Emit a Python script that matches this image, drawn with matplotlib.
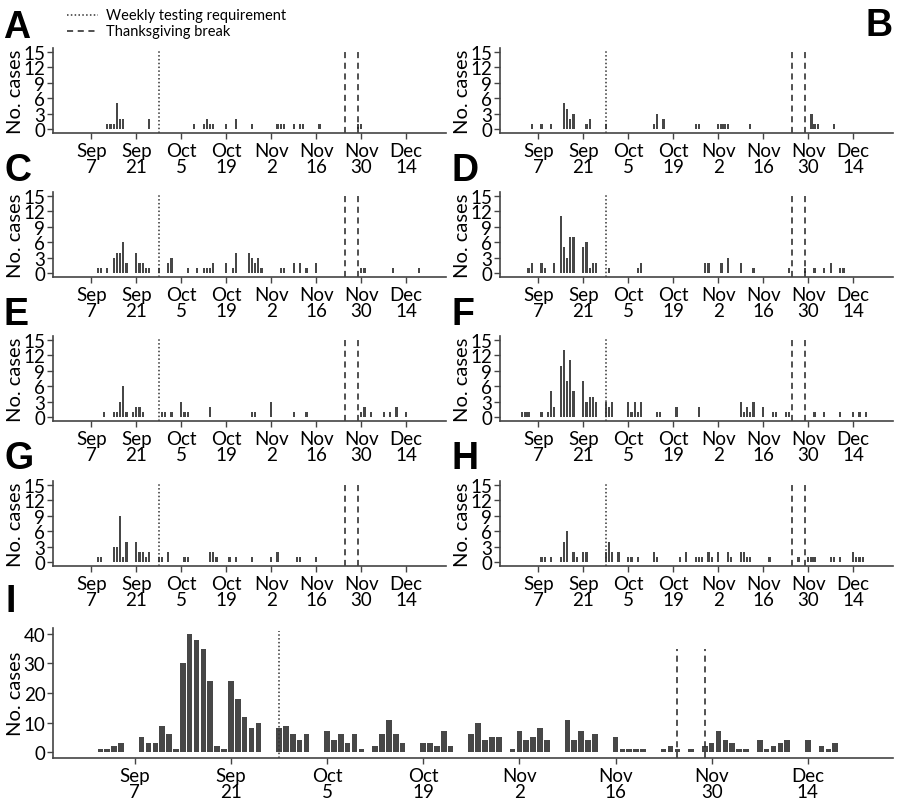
import pandas as pd
import matplotlib
matplotlib.use('Agg')
import matplotlib.pyplot as plt
from matplotlib.lines import Line2D

plt.rcParams['font.family'] = ['Lato', 'DejaVu Sans']

YEAR = 2020

# daily cases per panel ("MM-DD", cases)
a_dates = ['09-12', '09-13', '09-14', '09-15', '09-16', '09-17', '09-25', '10-09', '10-12', '10-13', '10-14', '10-15',
           '10-19', '10-22', '10-27', '11-04', '11-05', '11-06', '11-09', '11-11', '11-12', '11-17', '11-29', '11-30']
a_cases = [1, 1, 1, 5, 2, 2, 2, 1, 1, 2, 1, 1, 1, 2, 1, 1, 1, 1, 1, 1, 1, 1, 1, 1]

b_dates = ['09-05', '09-08', '09-11', '09-15', '09-16', '09-17', '09-18', '09-22', '09-23', '09-28', '10-13', '10-14',
           '10-16', '10-26', '10-27', '11-02', '11-03', '11-04', '11-05', '11-12', '12-01', '12-02', '12-03', '12-08']
b_cases = [1, 1, 1, 5, 4, 2, 3, 1, 2, 1, 1, 3, 2, 1, 1, 1, 1, 1, 1, 1, 3, 1, 1, 1]

c_dates = ['09-09', '09-10', '09-12', '09-14', '09-15', '09-16', '09-17', '09-18', '09-21', '09-22', '09-23', '09-24',
           '09-25', '09-28', '10-01', '10-02', '10-07', '10-10', '10-12', '10-13', '10-14', '10-15', '10-19', '10-21',
           '10-22', '10-26', '10-27', '10-28', '10-29', '10-30', '11-05', '11-06', '11-09', '11-11', '11-13', '11-16',
           '11-30', '12-01', '12-10', '12-18']
c_cases = [1, 1, 1, 3, 4, 4, 6, 2, 4, 2, 2, 1, 1, 1, 2, 3, 1, 1, 1, 1, 1, 2, 2, 1,
           4, 4, 3, 2, 3, 1, 1, 1, 2, 2, 1, 2, 1, 1, 1, 1]

d_dates = ['09-04', '09-05', '09-08', '09-09', '09-12', '09-14', '09-15', '09-16', '09-17', '09-18', '09-21', '09-22',
           '09-23', '09-24', '09-25', '09-29', '10-08', '10-09', '10-29', '10-30', '11-03', '11-05', '11-09', '11-13',
           '11-24', '11-29', '12-02', '12-05', '12-07', '12-10', '12-11']
d_cases = [1, 2, 2, 1, 2, 11, 5, 3, 7, 7, 5, 6, 1, 2, 2, 1, 1, 2, 2, 2, 2, 3, 2, 1, 1, 1, 1, 1, 2, 1, 1]

e_dates = ['09-11', '09-14', '09-15', '09-16', '09-17', '09-18', '09-20', '09-21', '09-22', '09-23', '09-29', '09-30',
           '10-02', '10-05', '10-06', '10-07', '10-14', '10-27', '10-28', '11-02', '11-09', '11-13', '11-30', '12-01',
           '12-03', '12-07', '12-09', '12-11', '12-14']
e_cases = [1, 1, 1, 3, 6, 1, 1, 2, 2, 1, 1, 1, 1, 3, 1, 1, 2, 1, 1, 3, 1, 1, 1, 2, 1, 1, 1, 2, 1]

f_dates = ['09-02', '09-03', '09-04', '09-08', '09-10', '09-11', '09-12', '09-14', '09-15', '09-16', '09-17', '09-18',
           '09-21', '09-22', '09-23', '09-24', '09-25', '09-28', '09-29', '09-30', '10-05', '10-06', '10-07', '10-08',
           '10-09', '10-14', '10-15', '10-20', '10-27', '11-09', '11-10', '11-11', '11-12', '11-13', '11-16', '11-19',
           '11-20', '11-23', '11-24', '12-02', '12-05', '12-10', '12-14', '12-16', '12-18']
f_cases = [1, 1, 1, 1, 1, 5, 2, 10, 13, 7, 11, 5, 7, 3, 4, 4, 3, 3, 2, 3, 3, 1, 3, 1,
           3, 1, 1, 2, 2, 3, 1, 2, 1, 3, 2, 1, 1, 1, 1, 1, 1, 1, 1, 1, 1]

g_dates = ['09-09', '09-10', '09-14', '09-15', '09-16', '09-17', '09-18', '09-21', '09-22', '09-23', '09-24', '09-25',
           '09-28', '09-29', '10-01', '10-06', '10-07', '10-14', '10-15', '10-16', '10-20', '10-22', '10-27', '11-02',
           '11-04', '11-10', '11-11', '11-16']
g_cases = [1, 1, 3, 3, 9, 1, 4, 4, 2, 2, 1, 2, 1, 1, 2, 1, 1, 2, 2, 1, 1, 1, 1, 1, 2, 1, 1, 1]

h_dates = ['09-08', '09-09', '09-11', '09-14', '09-15', '09-16', '09-18', '09-19', '09-21', '09-22', '09-28', '09-29',
           '09-30', '10-02', '10-05', '10-06', '10-08', '10-13', '10-14', '10-21', '10-23', '10-26', '10-27', '10-28',
           '10-30', '10-31', '11-02', '11-05', '11-06', '11-09', '11-10', '11-11', '11-12', '11-18', '11-27', '11-30',
           '12-01', '12-02', '12-07', '12-08', '12-10', '12-14', '12-15', '12-16', '12-17']
h_cases = [1, 1, 1, 1, 4, 6, 2, 1, 2, 2, 2, 4, 2, 2, 1, 1, 1, 2, 1, 1, 2, 1, 1, 1,
           2, 1, 2, 2, 1, 2, 2, 1, 1, 1, 1, 1, 1, 1, 1, 1, 1, 2, 1, 1, 1]

i_dates = ['09-02', '09-03', '09-04', '09-05', '09-08', '09-09', '09-10', '09-11', '09-12', '09-13', '09-14', '09-15',
           '09-16', '09-17', '09-18', '09-19', '09-20', '09-21', '09-22', '09-23', '09-24', '09-25', '09-28', '09-29',
           '09-30', '10-01', '10-02', '10-05', '10-06', '10-07', '10-08', '10-09', '10-10', '10-12', '10-13', '10-14',
           '10-15', '10-16', '10-19', '10-20', '10-21', '10-22', '10-23', '10-26', '10-27', '10-28', '10-29', '10-30',
           '11-01', '11-02', '11-03', '11-04', '11-05', '11-06', '11-09', '11-10', '11-11', '11-12', '11-13', '11-16',
           '11-17', '11-18', '11-19', '11-20', '11-23', '11-24', '11-25', '11-27', '11-29', '11-30', '12-01', '12-02',
           '12-03', '12-04', '12-05', '12-07', '12-08', '12-09', '12-10', '12-11', '12-14', '12-16', '12-17', '12-18']
i_cases = [1, 1, 2, 3, 5, 3, 3, 9, 6, 1, 30, 40, 38, 35, 24, 2, 1, 24, 18, 12, 8, 10, 8, 9,
           6, 4, 6, 7, 4, 6, 3, 6, 1, 2, 6, 11, 6, 3, 3, 3, 2, 7, 2, 6, 10, 4, 5, 5,
           1, 7, 4, 5, 8, 4, 11, 4, 7, 4, 6, 5, 1, 1, 1, 1, 1, 2, 1, 1, 2, 3, 7, 4,
           3, 1, 1, 4, 1, 2, 3, 4, 4, 2, 1, 3]

tick_dates = ['09-07', '09-21', '10-05', '10-19', '11-02', '11-16', '11-30', '12-14']
testing_date = '09-28'
break_dates = ['11-25', '11-29']


def to_dt(md):
    return pd.to_datetime([f'{YEAR}-{d}' for d in md])


W, H = 900, 804
fig = plt.figure(figsize=(W / 100, H / 100), dpi=100)


def rect(l, t, r, b):
    return [l / W, 1 - b / H, (r - l) / W, (b - t) / H]


BAR = '#474747'
AX = '#444444'
LABEL_GAP = 29  # px from axes left edge to right side of the y label
ticks = to_dt(tick_dates)
xmin = ticks[0] - pd.Timedelta(days=11.9)
xmax = ticks[0] + pd.Timedelta(days=110.4)


def style(ax, ymax, yt, ytsize, width_px):
    for s in ['top', 'right']:
        ax.spines[s].set_visible(False)
    for s in ['left', 'bottom']:
        ax.spines[s].set_color(AX)
        ax.spines[s].set_linewidth(1.2)
    ax.set_xlim(xmin, xmax)
    ax.set_ylim(-ymax * 0.05, ymax * 1.05)
    ax.set_yticks(yt)
    ax.set_yticklabels([str(v) for v in yt], fontsize=ytsize)
    ax.set_xticks(ticks)
    ax.set_xticklabels([f'{d:%b}\n{d.day}' for d in ticks], fontsize=13.5, linespacing=0.9)
    ax.tick_params(axis='both', color=AX, length=4, width=1.0, pad=1.5)
    ax.tick_params(axis='x', pad=2.5)
    ax.set_ylabel('No. cases', fontsize=14.5)
    ax.yaxis.set_label_coords(-LABEL_GAP / width_px, 0.5)


small = [
    ('A', a_dates, a_cases), ('B', b_dates, b_cases),
    ('C', c_dates, c_cases), ('D', d_dates, d_cases),
    ('E', e_dates, e_cases), ('F', f_dates, f_cases),
    ('G', g_dates, g_cases), ('H', h_dates, h_cases),
]
row_tops = [49, 193, 337, 482]
col_x = [(53, 446), (500, 893)]

for k, (name, dts, cs) in enumerate(small):
    r, c = divmod(k, 2)
    l, rr = col_x[c]
    t = row_tops[r]
    ax = fig.add_axes(rect(l, t, rr, t + 85))
    ax.bar(to_dt(dts), cs, width=0.7, color=BAR, linewidth=0)
    style(ax, 15, [0, 3, 6, 9, 12, 15], 13.5, rr - l)
    ax.vlines(to_dt([testing_date]), -0.75, 15.3, colors='#333333', linestyles=(0, (1, 1.5)), linewidth=1.1)
    ax.vlines(to_dt(break_dates), -0.75, 15.3, colors='#222222', linestyles=(0, (4, 3)), linewidth=1.1)

# combined panel
ax = fig.add_axes(rect(53, 629, 893, 759))
ax.bar(to_dt(i_dates), i_cases, width=0.82, color=BAR, linewidth=0)
style(ax, 40, [0, 10, 20, 30, 40], 13.5, 893 - 53)
ax.vlines(to_dt([testing_date]), -2, 41, colors='#333333', linestyles=(0, (1, 1.5)), linewidth=1.1)
ax.vlines(to_dt(break_dates), -2, 35, colors='#222222', linestyles=(0, (4, 3)), linewidth=1.1)

# panel letters
letters = [('A', 3, 10), ('B', 866, 8), ('C', 5, 153), ('D', 452, 153), ('E', 3, 297),
           ('F', 452, 297), ('G', 5, 441), ('H', 452, 441), ('I', 5, 584)]
for txt, x, y in letters:
    fig.text(x / W, 1 - y / H, txt, fontsize=27, fontweight='bold', family=['Liberation Sans', 'DejaVu Sans'],
             ha='left', va='top')

# legend
fig.add_artist(Line2D([67 / W, 98 / W], [1 - 16 / H, 1 - 16 / H], color='#333333',
                      linestyle=(0, (1, 1.5)), linewidth=1.1))
fig.add_artist(Line2D([67 / W, 98 / W], [1 - 32 / H, 1 - 32 / H], color='#222222',
                      linestyle=(0, (4, 3)), linewidth=1.1))
fig.text(106 / W, 1 - 16 / H, 'Weekly testing requirement', fontsize=10.5, va='center', ha='left')
fig.text(106 / W, 1 - 32 / H, 'Thanksgiving break', fontsize=10.5, va='center', ha='left')

fig.savefig('out.png', dpi=100)
